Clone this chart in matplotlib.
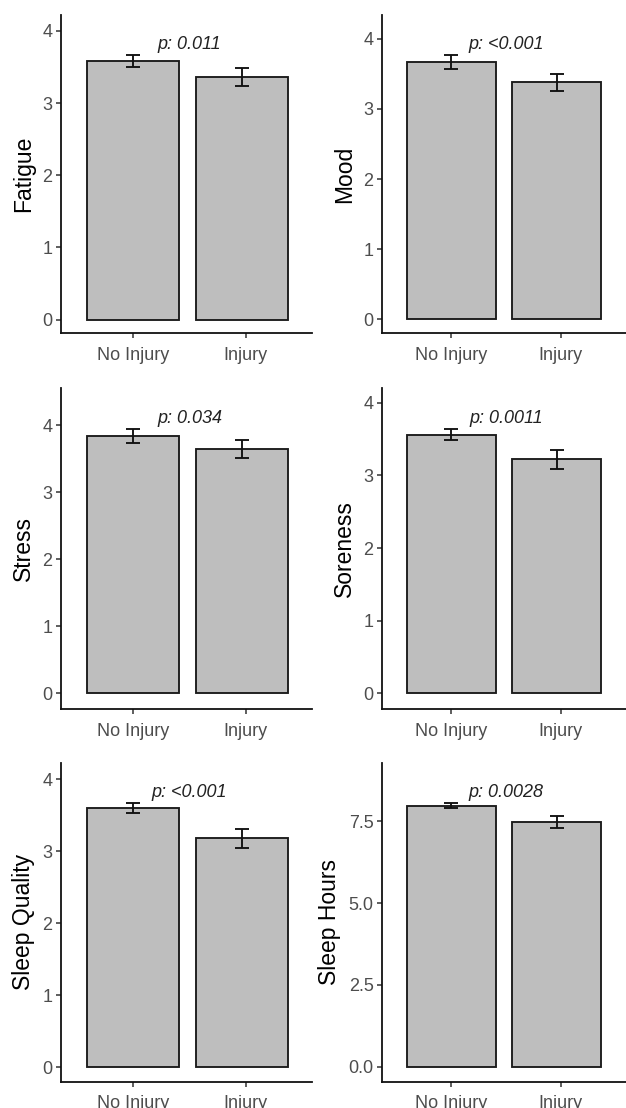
import matplotlib
matplotlib.use("Agg")
import matplotlib.pyplot as plt
from matplotlib.ticker import FormatStrFormatter

plt.rcParams["font.family"] = ["Liberation Sans", "DejaVu Sans"]

# Wellness measures by injury group (mean and standard error)
measures = ["Fatigue", "Mood", "Stress", "Soreness", "Sleep Quality", "Sleep Hours"]
groups = ["No Injury", "Injury"]
mean_no_injury = [3.58, 3.67, 3.84, 3.56, 3.60, 7.97]
se_no_injury = [0.085, 0.095, 0.105, 0.075, 0.075, 0.085]
mean_injury = [3.36, 3.38, 3.64, 3.22, 3.18, 7.47]
se_injury = [0.12, 0.12, 0.135, 0.13, 0.13, 0.19]
p_labels = ["p: 0.011", "p: <0.001", "p: 0.034", "p: 0.0011", "p: <0.001", "p: 0.0028"]

# Layout: panel boxes in pixels (left, right, top, bottom) and axis limits
W, H = 626, 1108
boxes = [
    (61, 311.7, 15, 333.3), (382, 626, 15, 333.3),
    (61, 311.7, 388.3, 709.3), (382, 626, 388.3, 709.3),
    (61, 311.7, 762.7, 1081.7), (382, 626, 762.7, 1081.7),
]
ylims = [(-0.19, 4.22), (-0.2, 4.34), (-0.24, 4.55), (-0.22, 4.20), (-0.2, 4.23), (-0.45, 9.28)]
xlims = [(0.357, 2.587), (0.367, 2.597)] * 3
yticks = [[0, 1, 2, 3, 4]] * 5 + [[0.0, 2.5, 5.0, 7.5]]
tick_pos = [1, 2]
bar_pos = [1.0, 1.965]
bar_width = 0.815

fig = plt.figure(figsize=(W / 100, H / 100), dpi=100)

for i, name in enumerate(measures):
    l, r, t, b = boxes[i]
    ax = fig.add_axes([l / W, 1 - b / H, (r - l) / W, (b - t) / H])
    means = [mean_no_injury[i], mean_injury[i]]
    ses = [se_no_injury[i], se_injury[i]]
    ax.bar(bar_pos, means, width=bar_width, color="#BEBEBE", edgecolor="#1a1a1a",
           linewidth=1.35, zorder=2)
    ax.errorbar(bar_pos, means, yerr=ses, fmt="none", ecolor="#111111", elinewidth=1.35,
                capsize=4.7, capthick=1.35, zorder=3)
    ax.set_xlim(*xlims[i])
    ax.set_ylim(*ylims[i])
    yr = ylims[i][1] - ylims[i][0]
    ytext = max(m + s for m, s in zip(means, ses)) + 0.033 * yr
    ax.text(1.5, ytext, p_labels[i], ha="center", va="center", style="italic",
            fontsize=13, color="#222222")
    ax.set_xticks(tick_pos)
    ax.set_xticklabels(groups)
    ax.set_yticks(yticks[i])
    if i == 5:
        ax.yaxis.set_major_formatter(FormatStrFormatter("%.1f"))
    ax.set_ylabel(name, fontsize=16.5, color="black", labelpad=5)
    for side in ("top", "right"):
        ax.spines[side].set_visible(False)
    for side in ("left", "bottom"):
        ax.spines[side].set_linewidth(1.3)
        ax.spines[side].set_color("#111111")
    ax.tick_params(axis="both", length=3.6, width=1.1, color="#333333",
                   labelsize=13, labelcolor="#4D4D4D")
    ax.tick_params(axis="x", pad=6)
    ax.tick_params(axis="y", pad=2.5)
    ax.set_facecolor("white")

fig.savefig("out.png", dpi=100, facecolor="white")
